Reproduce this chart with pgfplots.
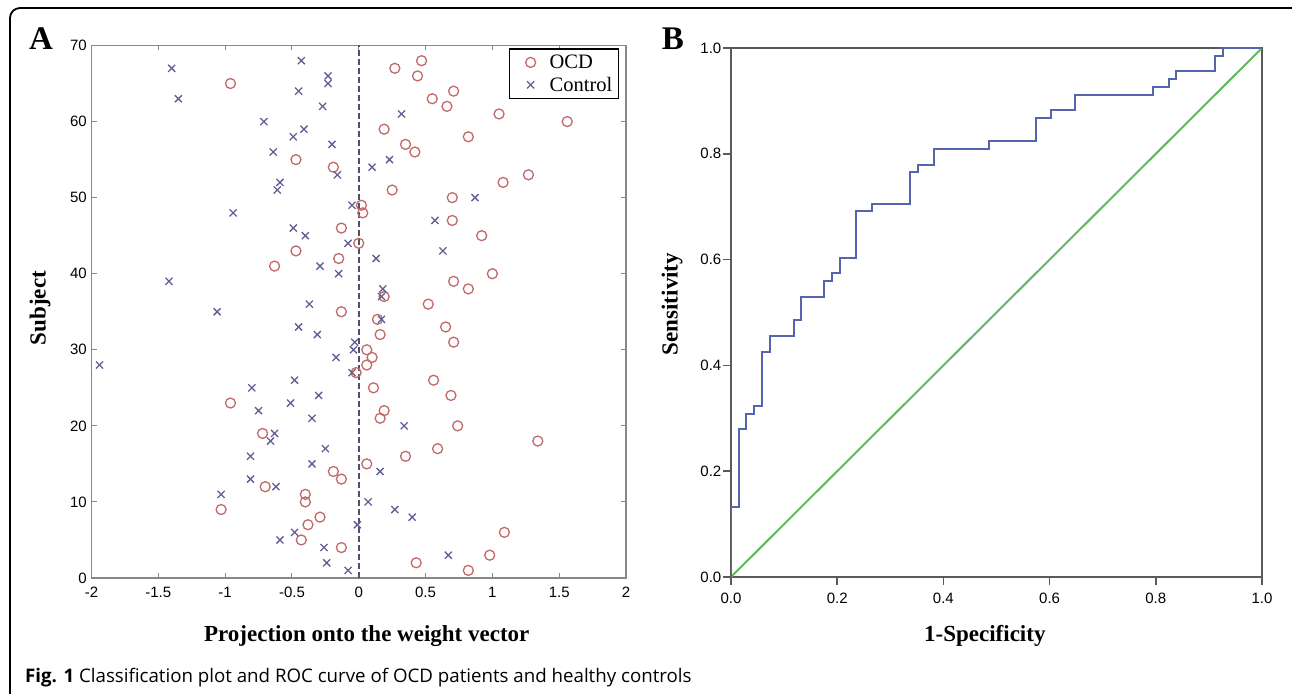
\documentclass[border=0pt]{standalone}
\usepackage{fontspec}
\setmainfont{Liberation Serif}
\setsansfont{Liberation Sans}
\newfontfamily\capfont{Open Sans}
\usepackage{pgfplots}
\usepackage{pgfplotstable}
\pgfplotsset{compat=1.18}

\definecolor{ocdred}{RGB}{195,105,105}
\definecolor{ctrlblue}{RGB}{95,95,150}
\definecolor{rocblue}{RGB}{85,100,175}
\definecolor{rocgreen}{RGB}{95,185,95}
\definecolor{axgray}{RGB}{135,135,135}
\definecolor{axdark}{RGB}{90,90,90}
\definecolor{zeroline}{RGB}{80,80,110}

% wide legend sample, mark only, in the middle (invisible path keeps the width)
\pgfplotsset{wide mark legend/.style={
    legend image code/.code={\path[draw=none, fill=none] (0pt,0pt) -- (34pt,0pt);
      \draw[##1, only marks] plot coordinates {(17pt,0pt)};}}}

% projection onto weight vector, subject number
\pgfplotstableread{
x y
0.82 1
0.43 2
0.98 3
-0.13 4
-0.43 5
1.09 6
-0.38 7
-0.29 8
-1.03 9
-0.40 10
-0.40 11
-0.70 12
-0.13 13
-0.19 14
0.06 15
0.35 16
0.59 17
1.34 18
-0.72 19
0.74 20
0.16 21
0.19 22
-0.96 23
0.69 24
0.11 25
0.56 26
-0.02 27
0.06 28
0.10 29
0.06 30
0.71 31
0.16 32
0.65 33
0.14 34
-0.13 35
0.52 36
0.19 37
0.82 38
0.71 39
1.00 40
-0.63 41
-0.15 42
-0.47 43
0.00 44
0.92 45
-0.13 46
0.70 47
0.03 48
0.02 49
0.70 50
0.25 51
1.08 52
1.27 53
-0.19 54
-0.47 55
0.42 56
0.35 57
0.82 58
0.19 59
1.56 60
1.05 61
0.66 62
0.55 63
0.71 64
-0.96 65
0.44 66
0.27 67
0.47 68
}\ocd

\pgfplotstableread{
x y
-0.08 1
-0.24 2
0.67 3
-0.26 4
-0.59 5
-0.48 6
-0.01 7
0.40 8
0.27 9
0.07 10
-1.03 11
-0.62 12
-0.81 13
0.16 14
-0.35 15
-0.81 16
-0.25 17
-0.66 18
-0.63 19
0.34 20
-0.35 21
-0.75 22
-0.51 23
-0.30 24
-0.80 25
-0.48 26
-0.05 27
-1.94 28
-0.17 29
-0.04 30
-0.03 31
-0.31 32
-0.45 33
0.17 34
-1.06 35
-0.37 36
0.17 37
0.18 38
-1.42 39
-0.15 40
-0.29 41
0.13 42
0.63 43
-0.08 44
-0.40 45
-0.49 46
0.57 47
-0.94 48
-0.05 49
0.87 50
-0.61 51
-0.59 52
-0.16 53
0.10 54
0.23 55
-0.64 56
-0.20 57
-0.49 58
-0.41 59
-0.71 60
0.32 61
-0.27 62
-1.35 63
-0.45 64
-0.23 65
-0.23 66
-1.40 67
-0.43 68
}\control

\begin{document}
\begin{tikzpicture}
\useasboundingbox (0pt,0pt) rectangle (1292pt,693pt);
\begin{scope}
\clip (0pt,0pt) rectangle (1292pt,693pt);
\draw[line width=1.8pt, rounded corners=10pt] (10pt,685pt) rectangle (1340pt,-40pt);
\end{scope}

\node[anchor=base west, inner sep=0pt, font=\bfseries\fontsize{33}{33}\selectfont] at (29pt,643.5pt) {A};
\node[anchor=base west, inner sep=0pt, font=\bfseries\fontsize{33}{33}\selectfont] at (661.7pt,643.5pt) {B};
\node[anchor=base west, inner sep=0pt, font=\capfont\fontsize{18.7}{18.7}\selectfont] at (25pt,11pt)
  {\textbf{Fig. 1} Classification plot and ROC curve of OCD patients and healthy controls};

% A: classification plot
\begin{axis}[
    at={(91.5pt,115pt)}, anchor=south west,
    scale only axis, width=534.5pt, height=532.5pt,
    xmin=-2, xmax=2, ymin=0, ymax=70,
    xtick={-2,-1.5,-1,-0.5,0,0.5,1,1.5,2},
    ytick={0,10,20,30,40,50,60,70},
    tick align=inside, major tick length=5pt,
    axis line style={axgray, line width=1.5pt},
    tick style={axgray, line width=1pt},
    /pgf/number format/assume math mode=true,
    tick label style={font=\sffamily\fontsize{15}{15}\selectfont, inner sep=0pt},
    xticklabel style={yshift=-9pt},
    yticklabel style={xshift=-4.5pt},
    xlabel={Projection onto the weight vector},
    xlabel style={font=\bfseries\fontsize{23}{23}\selectfont, at={(axis description cs:0.515,-0.109)}, anchor=center},
    ylabel={Subject},
    ylabel style={font=\bfseries\fontsize{23}{23}\selectfont, at={(axis description cs:-0.096,0.507)}, anchor=center},
    legend style={at={(rel axis cs:0.987,0.995)}, anchor=north east,
        font=\fontsize{20.5}{22}\selectfont, draw=black, line width=1.5pt,
        inner xsep=4pt, inner ysep=4pt, row sep=3pt},
    legend cell align=left,
]
\addplot[only marks, mark=o, mark size=5pt, ocdred, line width=1.3pt, wide mark legend] table[x=x, y=y] {\ocd};
\addlegendentry{OCD}
\addplot[only marks, mark=x, mark size=5pt, ctrlblue, line width=1.3pt, wide mark legend] table[x=x, y=y] {\control};
\addlegendentry{Control}
\addplot[zeroline, line width=1.5pt, dash pattern=on 6pt off 3pt, forget plot] coordinates {(0,0) (0,70)};
\end{axis}

% B: ROC curve
\begin{axis}[
    at={(731pt,116pt)}, anchor=south west,
    scale only axis, width=531pt, height=529pt,
    xmin=0, xmax=1, ymin=0, ymax=1,
    xtick={0,0.2,0.4,0.6,0.8,1}, ytick={0,0.2,0.4,0.6,0.8,1},
    tick align=outside, xtick pos=bottom, ytick pos=left,
    major tick length=8pt,
    axis line style={axdark, line width=2pt},
    tick style={axdark, line width=1.5pt},
    /pgf/number format/.cd, fixed, precision=1, fixed zerofill, assume math mode=true,
    /pgfplots/.cd,
    tick label style={font=\sffamily\fontsize{15}{15}\selectfont, inner sep=0pt},
    xticklabel style={yshift=-8pt},
    yticklabel style={xshift=-1.5pt},
    xlabel={1-Specificity},
    xlabel style={font=\bfseries\fontsize{23}{23}\selectfont, at={(axis description cs:0.478,-0.1115)}, anchor=center},
    ylabel={Sensitivity},
    ylabel style={font=\bfseries\fontsize{23}{23}\selectfont, at={(axis description cs:-0.111,0.516)}, anchor=center},
]
\addplot[rocgreen, line width=2pt] coordinates {(0,0) (1,1)};
\addplot[rocblue, line width=2pt] coordinates {
    (0,0) (0,0.132) (0.015,0.132) (0.015,0.279) (0.029,0.279) (0.029,0.309)
    (0.044,0.309) (0.044,0.324) (0.059,0.324) (0.059,0.426) (0.074,0.426)
    (0.074,0.456) (0.118,0.456) (0.118,0.485) (0.132,0.485) (0.132,0.529)
    (0.176,0.529) (0.176,0.559) (0.191,0.559) (0.191,0.574) (0.206,0.574)
    (0.206,0.603) (0.235,0.603) (0.235,0.691) (0.265,0.691) (0.265,0.706)
    (0.338,0.706) (0.338,0.765) (0.353,0.765) (0.353,0.779) (0.382,0.779)
    (0.382,0.809) (0.485,0.809) (0.485,0.824) (0.574,0.824) (0.574,0.868)
    (0.603,0.868) (0.603,0.882) (0.647,0.882) (0.647,0.912) (0.794,0.912)
    (0.794,0.926) (0.824,0.926) (0.824,0.941) (0.838,0.941) (0.838,0.956)
    (0.912,0.956) (0.912,0.985) (0.926,0.985) (0.926,1) (1,1)
};
\end{axis}
\end{tikzpicture}
\end{document}
